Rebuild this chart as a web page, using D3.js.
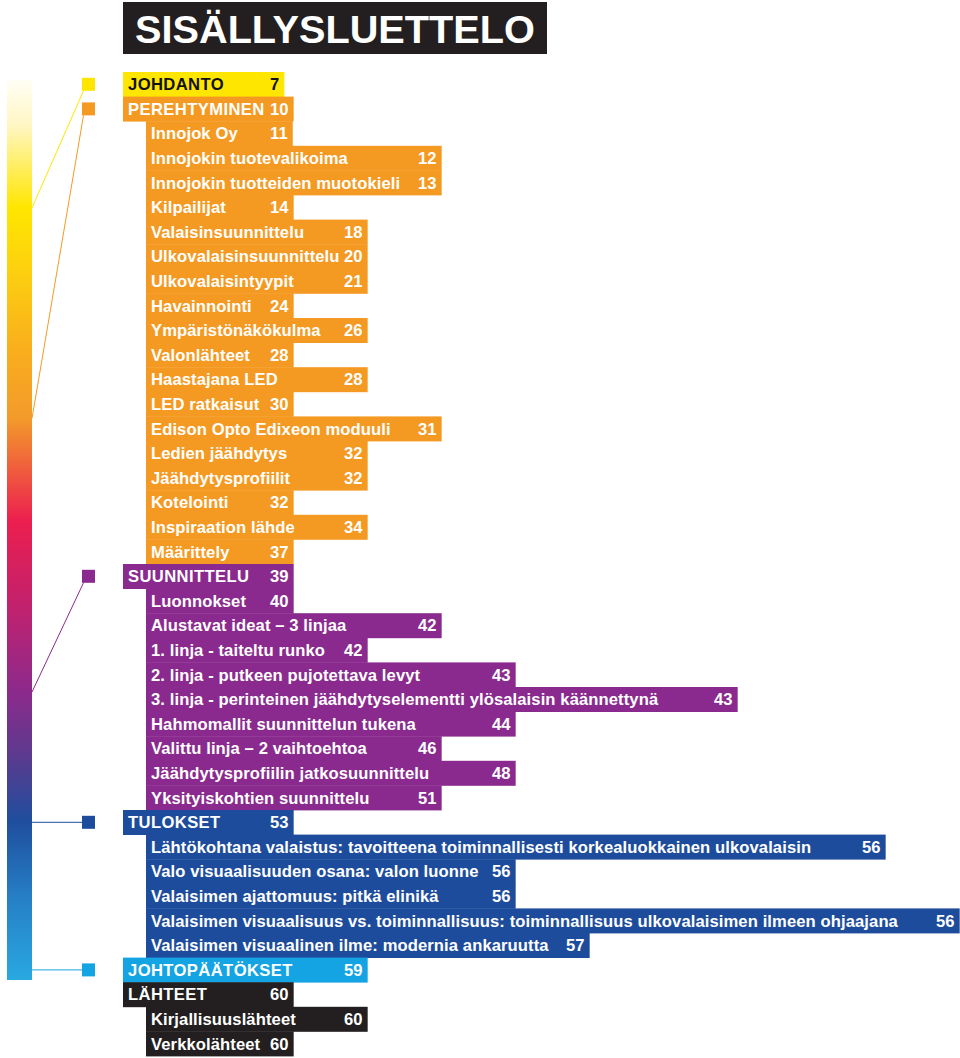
<!DOCTYPE html>
<html>
<head>
<meta charset="utf-8">
<script src="https://cdn.jsdelivr.net/npm/d3@7"></script>
<style>
html,body{margin:0;padding:0;background:#fff;}
svg{display:block;}
</style>
</head>
<body>
<svg id="chart" width="960" height="1058"></svg>
<script>
// ---------- DATA ----------
const titleText = "SISÄLLYSLUETTELO";

const titles = [
  "JOHDANTO","PEREHTYMINEN","Innojok Oy","Innojokin tuotevalikoima","Innojokin tuotteiden muotokieli",
  "Kilpailijat","Valaisinsuunnittelu","Ulkovalaisinsuunnittelu","Ulkovalaisintyypit","Havainnointi",
  "Ympäristönäkökulma","Valonlähteet","Haastajana LED","LED ratkaisut","Edison Opto Edixeon moduuli",
  "Ledien jäähdytys","Jäähdytysprofiilit","Kotelointi","Inspiraation lähde","Määrittely",
  "SUUNNITTELU","Luonnokset","Alustavat ideat – 3 linjaa","1. linja - taiteltu runko",
  "2. linja - putkeen pujotettava levyt",
  "3. linja - perinteinen jäähdytyselementti ylösalaisin käännettynä",
  "Hahmomallit suunnittelun tukena","Valittu linja – 2 vaihtoehtoa",
  "Jäähdytysprofiilin jatkosuunnittelu","Yksityiskohtien suunnittelu",
  "TULOKSET",
  "Lähtökohtana valaistus: tavoitteena toiminnallisesti korkealuokkainen ulkovalaisin",
  "Valo visuaalisuuden osana: valon luonne","Valaisimen ajattomuus: pitkä elinikä",
  "Valaisimen visuaalisuus vs. toiminnallisuus: toiminnallisuus ulkovalaisimen ilmeen ohjaajana",
  "Valaisimen visuaalinen ilme: modernia ankaruutta",
  "JOHTOPÄÄTÖKSET","LÄHTEET","Kirjallisuuslähteet","Verkkolähteet"
];
const pages = [7,10,11,12,13,14,18,20,21,24,26,28,28,30,31,32,32,32,34,37,
               39,40,42,42,43,43,44,46,48,51,53,56,56,56,56,57,59,60,60,60];
const levels = [1,1,2,2,2,2,2,2,2,2,2,2,2,2,2,2,2,2,2,2,
                1,2,2,2,2,2,2,2,2,2,1,2,2,2,2,2,1,1,2,2];
// page-number tab column (1 = first tab stop)
const tabs = [1,1,1,3,3,1,2,2,2,1,2,1,2,1,3,2,2,1,2,1,
              1,1,3,2,4,7,4,3,4,3,1,9,4,4,10,5,2,1,2,1];
const sections = [
  "JOHDANTO",
  ...Array(19).fill("PEREHTYMINEN"),
  ...Array(10).fill("SUUNNITTELU"),
  ...Array(6).fill("TULOKSET"),
  "JOHTOPÄÄTÖKSET",
  ...Array(3).fill("LÄHTEET")
];
const sectionNames  = ["JOHDANTO","PEREHTYMINEN","SUUNNITTELU","TULOKSET","JOHTOPÄÄTÖKSET","LÄHTEET"];
const sectionColors = ["#ffe600","#f49a22","#8a2a8e","#1e4c9c","#14a4e3","#231f20"];
const sectionText   = ["#111111","#ffffff","#ffffff","#ffffff","#ffffff","#ffffff"];
const markedSections = ["JOHDANTO","PEREHTYMINEN","SUUNNITTELU","TULOKSET","JOHTOPÄÄTÖKSET"];

// colour ramp of the side bar (offset along bar, colour)
const rampOffsets = [0, 0.05, 0.142, 0.21, 0.30, 0.376, 0.49, 0.58, 0.68, 0.75, 0.824, 0.91, 1];
const rampColors  = ["#fffef5","#fff6c4","#ffe600","#fcd10f","#f9ae1d","#f39a2b","#ec1f4f","#c4216c","#8c2a8c","#5c3a8e","#1f4e9e","#2680c6","#29a8e0"];
// where each marked section's connector meets the ramp
const rampAnchors = [0.142, 0.376, 0.68, null, null];

// ---------- LAYOUT ----------
const svg = d3.select("#chart");
const FONT = "'Liberation Sans', Arial, Helvetica, sans-serif";

const rows = titles.map((t,i)=>({
  i, title:t, page:pages[i], level:levels[i], tab:tabs[i], section:sections[i]
}));

const y = d3.scaleBand().domain(d3.range(rows.length)).range([72, 1056]).padding(0);
const boxLeft = d3.scaleOrdinal().domain([1,2]).range([123,146]);
const tabX = d3.scaleLinear().domain([1,2]).range([270,344]);
const colorOf = d3.scaleOrdinal().domain(sectionNames).range(sectionColors);
const textColorOf = d3.scaleOrdinal().domain(sectionNames).range(sectionText);

const bar = {x0:7, x1:32, y0:80, y1:980};
const barY = d3.scaleLinear().domain([0,1]).range([bar.y0, bar.y1]);

// ---------- TITLE ----------
const titleG = svg.append("g");
titleG.append("rect").attr("x",123).attr("y",2).attr("width",424).attr("height",52).attr("fill","#231f20");
const tt = titleG.append("text")
  .attr("x",135).attr("y",43)
  .attr("font-family",FONT).attr("font-weight","bold").attr("font-size",42)
  .attr("fill","#fff").text(titleText);
const tw = tt.node().getComputedTextLength();
tt.attr("font-size", 42*400/tw);

// ---------- SIDE BAR ----------
const defs = svg.append("defs");
const grad = defs.append("linearGradient").attr("id","ramp")
  .attr("gradientUnits","userSpaceOnUse")
  .attr("x1",0).attr("x2",0).attr("y1",bar.y0).attr("y2",bar.y1);
grad.selectAll("stop").data(rampOffsets).join("stop")
  .attr("offset",d=>d).attr("stop-color",(d,i)=>rampColors[i]);
svg.append("rect").attr("x",bar.x0).attr("y",bar.y0)
  .attr("width",bar.x1-bar.x0).attr("height",bar.y1-bar.y0).attr("fill","url(#ramp)");

// ---------- ROWS ----------
const FS = 16.6;
const spacing = d => d.level===1 ? 0.4 : 0.1;
const rowG = svg.append("g");
const g = rowG.selectAll("g.row").data(rows).join("g").attr("class","row");

const numText = g.append("text")
  .attr("x",d=>tabX(d.tab))
  .attr("y",d=>y(d.i)+y.bandwidth()/2+5.8)
  .attr("font-family",FONT).attr("font-weight","bold").attr("font-size",FS)
  .attr("letter-spacing",0.1)
  .attr("fill",d=>textColorOf(d.section))
  .text(d=>d.page);
numText.each(function(d){ d.numW = this.getComputedTextLength(); });

g.insert("rect","text")
  .attr("x",d=>boxLeft(d.level))
  .attr("y",d=>y(d.i))
  .attr("width",d=>tabX(d.tab)+d.numW+5-boxLeft(d.level))
  .attr("height",y.bandwidth()+0.4)
  .attr("fill",d=>colorOf(d.section));

g.append("text")
  .attr("x",d=>boxLeft(d.level)+5)
  .attr("y",d=>y(d.i)+y.bandwidth()/2+5.8)
  .attr("font-family",FONT).attr("font-weight","bold").attr("font-size",FS)
  .attr("letter-spacing",spacing)
  .attr("fill",d=>textColorOf(d.section))
  .text(d=>d.title);

// ---------- MARKERS + CONNECTORS ----------
const SQ = 13, sqX = 82;
const markers = markedSections.map((s,k)=>{
  const r = rows.find(d=>d.title===s);
  const cy = y(r.i)+y.bandwidth()/2;
  const anchorY = rampAnchors[k]==null ? cy : barY(rampAnchors[k]);
  return {s, cy, anchorY};
});
const mg = svg.append("g");
mg.selectAll("line").data(markers).join("line")
  .attr("x1",bar.x1)
  .attr("y1",d=>d.anchorY)
  .attr("x2",d=> Math.abs(d.anchorY-d.cy)<SQ/2 ? sqX : sqX+1.5)
  .attr("y2",d=> Math.abs(d.anchorY-d.cy)<SQ/2 ? d.anchorY : d.cy+SQ/2)
  .attr("stroke",d=>colorOf(d.s)).attr("stroke-width",1);
mg.selectAll("rect").data(markers).join("rect")
  .attr("x",sqX).attr("y",d=>d.cy-SQ/2).attr("width",SQ).attr("height",SQ)
  .attr("fill",d=>colorOf(d.s));
</script>
</body>
</html>
